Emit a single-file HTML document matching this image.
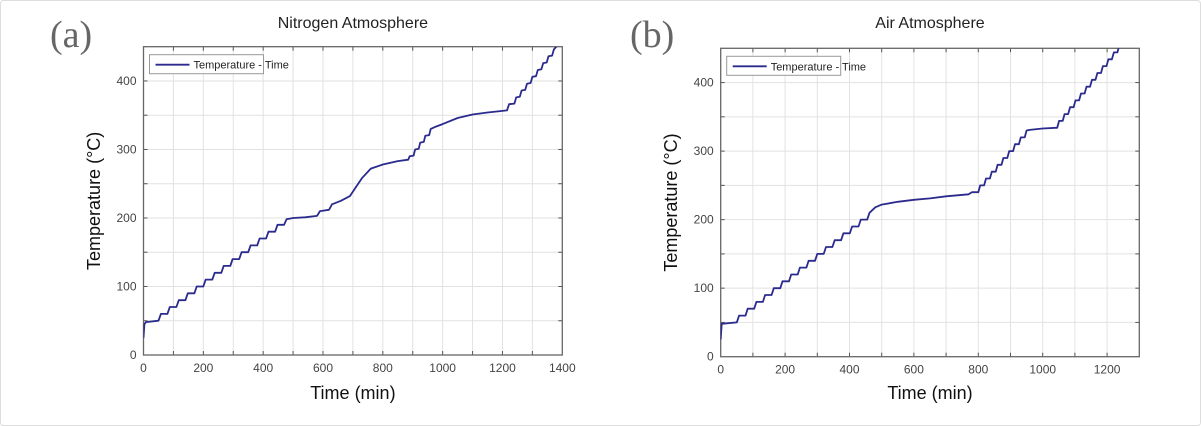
<!DOCTYPE html>
<html><head><meta charset="utf-8"><style>
body{margin:0;background:#fff;}
svg{display:block;font-family:"Liberation Sans",sans-serif;}
</style></head><body>
<svg id="fig" width="1201" height="426" viewBox="0 0 1201 426">
<rect x="0.5" y="0.5" width="1200" height="425" rx="3" fill="#fff" stroke="#ddd"/>
</svg>
<script>
const catXN = [0,200,400,600,800,1000,1200,1400];
const catXA = [0,200,400,600,800,1000,1200];
const yTicks = [0,100,200,300,400];
const tN = [0,3,8,50,58,80,88,110,118,140,148,170,178,200,208,230,238,260,268,290,298,320,328,350,358,380,388,410,418,440,448,470,478,500,540,580,590,620,630,660,690,710,730,760,800,850,885,890,903,908,920,925,937,942,955,960,975,1000,1050,1100,1150,1215,1222,1240,1246,1258,1264,1276,1282,1294,1300,1312,1318,1330,1336,1348,1354,1366,1372,1380,1385];
const yN = [25,45,48,50,60,60,70,70,80,80,90,90,100,100,110,110,120,120,130,130,140,140,150,150,160,160,170,170,180,180,190,190,198,200,201,203,210,212,220,225,232,245,258,272,278,283,285,290,291,300,301,310,311,320,321,330,333,337,346,351,354,357,366,367,376,377,386,387,396,397,406,407,416,417,426,427,436,437,446,450,455];
const tA = [0,3,50,57,77,84,104,111,131,138,158,165,185,192,212,219,239,246,266,273,293,300,320,327,347,354,374,381,401,408,428,435,455,462,480,500,550,600,650,700,770,780,800,806,818,824,836,842,854,860,872,878,890,896,908,914,926,932,944,950,960,1000,1040,1045,1051,1062,1068,1079,1085,1096,1102,1113,1119,1130,1136,1147,1153,1164,1170,1181,1187,1198,1204,1215,1221,1232,1238,1245];
const yA = [25,48,50,60,60,70,70,80,80,90,90,100,100,110,110,120,120,130,130,140,140,150,150,160,160,170,170,180,180,190,190,200,200,210,218,222,226,229,231,234,237,240,240,250,250,260,260,270,270,280,280,290,290,300,300,310,310,320,320,330,331,333,334,334,344,344,354,354,364,364,374,374,384,384,394,394,404,404,414,414,424,424,434,434,444,444,454,458];

const NS='http://www.w3.org/2000/svg';
const svg=document.getElementById('fig');
function mk(tag,attrs,parent){const e=document.createElementNS(NS,tag);for(const k in attrs)e.setAttribute(k,attrs[k]);(parent||svg).appendChild(e);return e;}

function chart(cfg){
  const g=mk('g',{});
  
  
  const {x0,x1,y0,y1,xmax,ymax}=cfg;
  const sx=v=>x0+(x1-x0)*v/xmax, sy=v=>y0-(y0-y1)*v/ymax;
  for(let v=100;v<xmax;v+=100){const l=mk('line',{x1:sx(v),x2:sx(v),y1:y1,y2:y0,stroke:'#e2e2e2','stroke-width':1},g);
    
    mk('line',{x1:sx(v),x2:sx(v),y1:y0,y2:y0-4,stroke:'#555'},g);mk('line',{x1:sx(v),x2:sx(v),y1:y1,y2:y1+4,stroke:'#555'},g);}
  for(let v=50;v<ymax;v+=50){const l=mk('line',{x1:x0,x2:x1,y1:sy(v),y2:sy(v),stroke:'#e2e2e2','stroke-width':1},g);
    
    mk('line',{x1:x0,x2:x0+4,y1:sy(v),y2:sy(v),stroke:'#555'},g);mk('line',{x1:x1,x2:x1-4,y1:sy(v),y2:sy(v),stroke:'#555'},g);}
  const fr=mk('rect',{x:x0,y:y1,width:x1-x0,height:y0-y1,fill:'none',stroke:'#666','stroke-width':1.3},g);
  
  cfg.xt.forEach(v=>{const t=mk('text',{x:sx(v),y:y0+17,'text-anchor':'middle','font-size':12,fill:'#444'},g);t.textContent=v;
    });
  yTicks.forEach(v=>{const t=mk('text',{x:x0-7,y:sy(v)+4,'text-anchor':'end','font-size':12,fill:'#444'},g);t.textContent=v;
    });
  const cp=mk('clipPath',{id:cfg.id+'-clip'},g);mk('rect',{x:x0,y:y1,width:x1-x0,height:y0-y1},cp);
  const pts=cfg.t.map((t,i)=>sx(t).toFixed(1)+','+sy(cfg.y[i]).toFixed(1)).join(' ');
  const pl=mk('polyline',{points:pts,fill:'none',stroke:'#2b2b8e','stroke-width':1.8,'stroke-linejoin':'round','clip-path':'url(#'+cfg.id+'-clip)'},g);
  
  const lg=mk('g',{},g);
  mk('rect',{x:x0+6,y:y1+8,width:114,height:19,fill:'#fff',stroke:'#999'},lg);
  mk('line',{x1:x0+12,x2:x0+46,y1:y1+18,y2:y1+18,stroke:'#2b2b8e','stroke-width':1.8},lg);
  const lt=mk('text',{x:x0+50,y:y1+22,'font-size':11,fill:'#222'},lg);lt.textContent='Temperature - Time';
  const tt=mk('text',{x:(x0+x1)/2,y:28,'text-anchor':'middle','font-size':16,fill:'#222'},g);tt.textContent=cfg.title;
  
  const xt=mk('text',{x:(x0+x1)/2,y:399,'text-anchor':'middle','font-size':18,fill:'#111'},g);xt.textContent='Time (min)';
  
  const cy=(y0+y1)/2;
  const yt=mk('text',{x:cfg.ylx,y:cy,'text-anchor':'middle','font-size':18,fill:'#111',transform:'rotate(-90 '+cfg.ylx+' '+cy+')'},g);yt.textContent='Temperature (°C)';
  
  const pl2=mk('text',{x:cfg.px,y:47,'font-size':38,fill:'#666','font-family':'Liberation Serif, serif'},g);pl2.textContent=cfg.panel;
  
}
chart({id:'chart-nitrogen',x0:143.5,x1:562.3,y0:355,y1:46.7,xmax:1400,ymax:450,xt:catXN,t:tN,y:yN,title:'Nitrogen Atmosphere',ylx:100,px:50,panel:'(a)'});
chart({id:'chart-air',x0:720.7,x1:1139.3,y0:356.7,y1:48.3,xmax:1300,ymax:450,xt:catXA,t:tA,y:yA,title:'Air Atmosphere',ylx:677,px:630,panel:'(b)'});
</script>
</body></html>
